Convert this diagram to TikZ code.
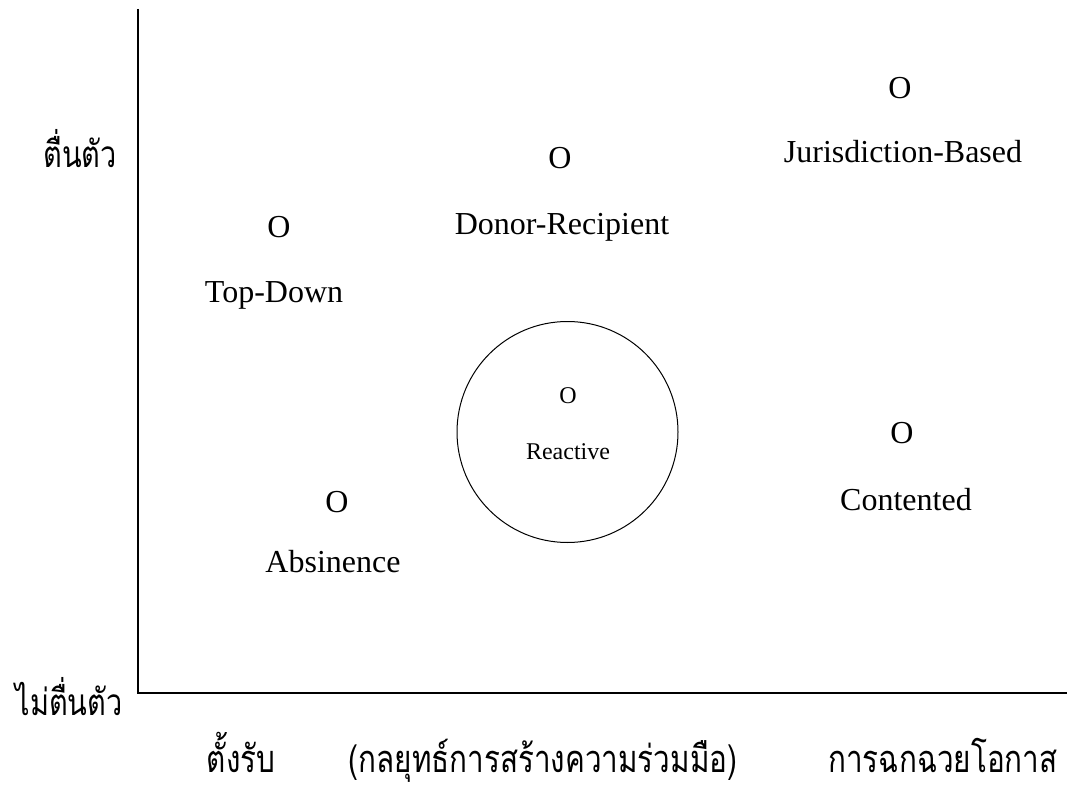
\documentclass[tikz,border=0pt]{standalone}
\usepackage{fontspec}
\setmainfont{Liberation Serif}
\newfontfamily\thaifont[Script=Thai,FakeStretch=0.78]{Loma}
\usetikzlibrary{positioning}

\begin{document}
\begin{tikzpicture}[
  x=1pt,y=-1pt,
  pt/.style={inner sep=0pt,font=\fontsize{32}{36}\selectfont,
    text height=21pt,text depth=0pt},
  lbl/.style={inner sep=0pt,font=\fontsize{32}{36}\selectfont,
    text height=21pt,text depth=0pt},
  small/.style={inner sep=0pt,font=\fontsize{24}{28}\selectfont,
    text height=16pt,text depth=0pt},
  thai/.style={inner sep=0pt,anchor=base,font=\thaifont\fontsize{#1}{#1}\selectfont},
  thai/.default={37},
  axis/.style={line width=1.2pt},
]
  \useasboundingbox (0,0) rectangle (1067,791);
  % axes
  \coordinate (top) at (138,9);
  \coordinate (orig) at (138,693);
  \coordinate (right) at (1067,693);
  \draw[axis] (top) -- (orig) -- (right);
  % axis labels
  \node[thai] (hi) at (80,168) {ตื่นตัว};
  \node[thai] (lo) at (69,715) {ไม่ตื่นตัว};
  \node[thai=38] (def) at (241,772) {ตั้งรับ};
  \node[thai=38] (mid) at (543,772) {(กลยุทธ์การสร้างความร่วมมือ)};
  \node[thai=38] (opp) at (943,772) {การฉกฉวยโอกาส};
  % strategies
  \node[pt] (jb) at (900,88) {O};
  \node[lbl,below=43pt of jb,xshift=3pt] (jbl) {Jurisdiction-Based};
  \node[pt] (dr) at (560,158) {O};
  \node[lbl,below=45pt of dr,xshift=2pt] (drl) {Donor-Recipient};
  \node[pt] (td) at (279,227) {O};
  \node[lbl,below=44pt of td,xshift=-5pt] (tdl) {Top-Down};
  \node[pt] (ab) at (337,502) {O};
  \node[lbl,below=39pt of ab,xshift=-4pt] (abl) {Absinence};
  \node[pt] (ct) at (902,433) {O};
  \node[lbl,below=46pt of ct,xshift=4pt] (ctl) {Contented};
  % reactive
  \node[draw,circle,line width=1pt,minimum size=221pt] (rc) at (567.5,432) {};
  \node[small] (re) at (568,395) {O};
  \node[small,below=40pt of re] (rel) {Reactive};
\end{tikzpicture}
\end{document}
